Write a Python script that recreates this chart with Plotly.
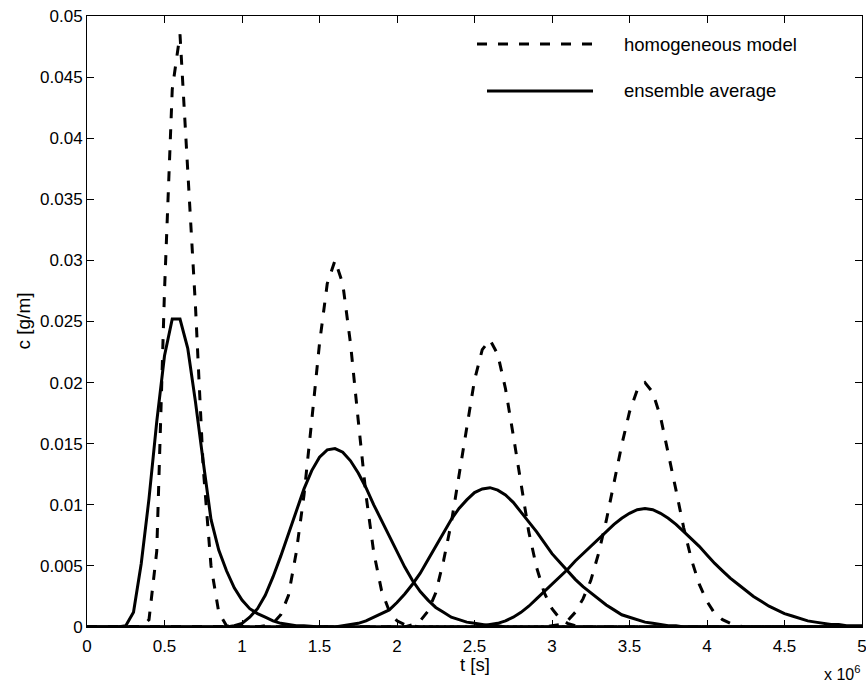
import plotly.graph_objects as go

# time in units of 10^6 s, concentration in g/m
# ---- homogeneous model (dashed), four pulses ----
t_h1 = [0.0, 0.35, 0.40, 0.45, 0.50, 0.55, 0.60, 0.65, 0.70, 0.75, 0.80, 0.85, 0.90, 0.95, 5.0]
c_h1 = [0, 0, 0.0006, 0.0062, 0.0275, 0.0440, 0.0485, 0.0375, 0.0262, 0.0130, 0.0050, 0.0012, 0.0001, 0, 0]

t_h2 = [0.0, 1.10, 1.15, 1.20, 1.25, 1.30, 1.35, 1.40, 1.45, 1.50, 1.55, 1.60, 1.65, 1.70, 1.75,
        1.80, 1.85, 1.90, 1.95, 2.00, 2.05, 2.10, 2.15, 5.0]
c_h2 = [0, 0, 0.0001, 0.0003, 0.0010, 0.0026, 0.0061, 0.0108, 0.0169, 0.0232, 0.0281, 0.0300, 0.0281,
        0.0232, 0.0169, 0.0108, 0.0061, 0.0030, 0.0013, 0.0005, 0.0002, 0.0001, 0, 0]

t_h3 = [0.0, 2.05, 2.10, 2.15, 2.20, 2.25, 2.30, 2.35, 2.40, 2.45, 2.50, 2.55, 2.60, 2.65, 2.70, 2.75,
        2.80, 2.85, 2.90, 2.95, 3.00, 3.05, 3.10, 3.15, 3.20, 5.0]
c_h3 = [0, 0, 0.0002, 0.0005, 0.0013, 0.0028, 0.0054, 0.0085, 0.0124, 0.0165, 0.0202, 0.0227, 0.0235,
        0.0223, 0.0195, 0.0157, 0.0116, 0.0078, 0.0049, 0.0028, 0.0015, 0.0007, 0.0003, 0.0001, 0, 0]

t_h4 = [0.0, 2.95, 3.00, 3.05, 3.10, 3.15, 3.20, 3.25, 3.30, 3.35, 3.40, 3.45, 3.50, 3.55, 3.60, 3.65,
        3.70, 3.75, 3.80, 3.85, 3.90, 3.95, 4.00, 4.05, 4.10, 4.15, 4.20, 4.25, 5.0]
c_h4 = [0, 0, 0.0001, 0.0002, 0.0005, 0.0012, 0.0023, 0.0038, 0.0060, 0.0087, 0.0118, 0.0149, 0.0176,
        0.0194, 0.0200, 0.0192, 0.0172, 0.0143, 0.0112, 0.0081, 0.0055, 0.0035, 0.0021, 0.0011, 0.0006,
        0.0003, 0.0001, 0, 0]

# ---- ensemble average (solid), four pulses ----
t_e1 = [0.0, 0.20, 0.25, 0.30, 0.35, 0.40, 0.45, 0.50, 0.55, 0.60, 0.65, 0.70, 0.75, 0.80, 0.85, 0.90,
        0.95, 1.00, 1.05, 1.10, 1.15, 1.20, 1.25, 1.30, 1.35, 1.40, 1.45, 1.50, 5.0]
c_e1 = [0, 0, 0.0001, 0.0012, 0.0052, 0.0105, 0.0168, 0.0222, 0.0252, 0.0252, 0.0228, 0.0184, 0.0135,
        0.0088, 0.0063, 0.0046, 0.0032, 0.0022, 0.0015, 0.0011, 0.0008, 0.0005, 0.0003, 0.0002, 0.0001,
        0.0001, 0.00005, 0, 0]

t_e2 = [0.0, 0.90, 0.95, 1.00, 1.05, 1.10, 1.15, 1.20, 1.25, 1.30, 1.35, 1.40, 1.45, 1.50, 1.55, 1.60,
        1.65, 1.70, 1.75, 1.80, 1.85, 1.90, 1.95, 2.00, 2.05, 2.10, 2.15, 2.20, 2.25, 2.30, 2.35, 2.40,
        2.45, 2.50, 2.55, 2.60, 2.65, 2.70, 5.0]
c_e2 = [0, 0, 0.0001, 0.0003, 0.0008, 0.0015, 0.0026, 0.0041, 0.0058, 0.0076, 0.0095, 0.0113, 0.0128,
        0.0139, 0.0145, 0.0146, 0.0143, 0.0136, 0.0126, 0.0114, 0.0100, 0.0087, 0.0074, 0.0062, 0.0049,
        0.0038, 0.0029, 0.0022, 0.0016, 0.0012, 0.0008, 0.0006, 0.0004, 0.0003, 0.0002, 0.0001, 0.0001,
        0, 0]

t_e3 = [0.0, 1.60, 1.65, 1.70, 1.75, 1.80, 1.85, 1.90, 1.95, 2.00, 2.05, 2.10, 2.15, 2.20, 2.25, 2.30,
        2.35, 2.40, 2.45, 2.50, 2.55, 2.60, 2.65, 2.70, 2.75, 2.80, 2.85, 2.90, 2.95, 3.00, 3.05, 3.10,
        3.15, 3.20, 3.25, 3.30, 3.35, 3.40, 3.45, 3.50, 3.55, 3.60, 3.65, 3.70, 3.75, 3.80, 3.85, 5.0]
c_e3 = [0, 0, 0.0001, 0.0002, 0.0003, 0.0005, 0.0008, 0.0011, 0.0014, 0.0020, 0.0027, 0.0035, 0.0044,
        0.0055, 0.0066, 0.0077, 0.0088, 0.0097, 0.0104, 0.0110, 0.0113, 0.0114, 0.0112, 0.0108, 0.0102,
        0.0094, 0.0086, 0.0078, 0.0069, 0.0060, 0.0053, 0.0046, 0.0039, 0.0033, 0.0028, 0.0023, 0.0018,
        0.0014, 0.0010, 0.0008, 0.0006, 0.0004, 0.0003, 0.0002, 0.0001, 0.0001, 0, 0]

t_e4 = [0.0, 2.50, 2.55, 2.60, 2.65, 2.70, 2.75, 2.80, 2.85, 2.90, 2.95, 3.00, 3.05, 3.10, 3.15, 3.20,
        3.25, 3.30, 3.35, 3.40, 3.45, 3.50, 3.55, 3.60, 3.65, 3.70, 3.75, 3.80, 3.85, 3.90, 3.95, 4.00,
        4.05, 4.10, 4.15, 4.20, 4.25, 4.30, 4.35, 4.40, 4.45, 4.50, 4.55, 4.60, 4.65, 4.70, 4.75, 4.80,
        4.85, 4.90, 4.95, 5.00]
c_e4 = [0, 0, 0.0001, 0.0002, 0.0003, 0.0005, 0.0008, 0.0012, 0.0017, 0.0023, 0.0029, 0.0035, 0.0041,
        0.0047, 0.0054, 0.0060, 0.0066, 0.0072, 0.0078, 0.0084, 0.0089, 0.0093, 0.0096, 0.0097, 0.0096,
        0.0093, 0.0089, 0.0084, 0.0078, 0.0072, 0.0066, 0.0059, 0.0052, 0.0046, 0.0040, 0.0035, 0.0030,
        0.0025, 0.0021, 0.0017, 0.0014, 0.0011, 0.0009, 0.0007, 0.0005, 0.0004, 0.0003, 0.0002, 0.0002,
        0.0001, 0.0001, 0.0001]

x_tickvals = [0, 0.5, 1, 1.5, 2, 2.5, 3, 3.5, 4, 4.5, 5]
x_ticktext = ["0", "0.5", "1", "1.5", "2", "2.5", "3", "3.5", "4", "4.5", "5"]
y_tickvals = [0, 0.005, 0.01, 0.015, 0.02, 0.025, 0.03, 0.035, 0.04, 0.045, 0.05]
y_ticktext = ["0", "0.005", "0.01", "0.015", "0.02", "0.025", "0.03", "0.035", "0.04", "0.045", "0.05"]

legend_labels = ["homogeneous model", "ensemble average"]

FONT = "Liberation Sans, Arial, Helvetica, sans-serif"
DASH = "10px,11px"

fig = go.Figure()
for t, c in [(t_h1, c_h1), (t_h2, c_h2), (t_h3, c_h3), (t_h4, c_h4)]:
    assert len(t) == len(c)
    fig.add_trace(go.Scatter(x=t, y=c, mode="lines", showlegend=False, hoverinfo="skip",
                             line=dict(color="black", width=3, dash=DASH)))
for t, c in [(t_e1, c_e1), (t_e2, c_e2), (t_e3, c_e3), (t_e4, c_e4)]:
    assert len(t) == len(c)
    fig.add_trace(go.Scatter(x=t, y=c, mode="lines", showlegend=False, hoverinfo="skip",
                             line=dict(color="black", width=3)))

axis_common = dict(showline=True, linecolor="black", linewidth=1, mirror="ticks",
                   ticks="inside", ticklen=7, tickwidth=1, tickcolor="black",
                   showgrid=False, zeroline=False, ticklabeloverflow="allow", automargin=False,
                   tickfont=dict(family=FONT, size=17, color="black"))
fig.update_xaxes(range=[0, 5], tickvals=x_tickvals, ticktext=x_ticktext, ticklabelstandoff=4,
                 **axis_common)
fig.update_yaxes(range=[0, 0.05], tickvals=y_tickvals, ticktext=y_ticktext, **axis_common)

W, H = 866, 684
L, R, T, B = 87, 4, 16, 57
pw, ph = W - L - R, H - T - B


def px(xp):
    return (xp - L) / pw


def py(yp):
    return (H - B - yp) / ph


# legend drawn manually (long line samples like the original)
fig.add_shape(type="line", xref="paper", yref="paper", x0=px(477), x1=px(593), y0=py(44), y1=py(44),
              line=dict(color="black", width=3, dash=DASH))
fig.add_shape(type="line", xref="paper", yref="paper", x0=px(487), x1=px(593), y0=py(91), y1=py(91),
              line=dict(color="black", width=3))
for lab, yy in zip(legend_labels, [44, 91]):
    fig.add_annotation(text=lab, xref="paper", yref="paper", x=px(622), y=py(yy), xanchor="left",
                       yanchor="middle", showarrow=False, font=dict(family=FONT, size=18.5, color="black"))

fig.add_annotation(text="t [s]", xref="paper", yref="paper", x=0.5, y=py(665), xanchor="center",
                   yanchor="middle", showarrow=False, borderpad=0,
                   font=dict(family=FONT, size=18.5, color="black"))
fig.add_annotation(text="c [g/m]", xref="paper", yref="paper", x=px(23), y=0.5, xanchor="center",
                   yanchor="middle", textangle=-90, showarrow=False,
                   font=dict(family=FONT, size=19, color="black"))
fig.add_annotation(text="x 10<sup>6</sup>", xref="paper", yref="paper", x=px(862), y=py(673),
                   xanchor="right", yanchor="middle", showarrow=False,
                   font=dict(family=FONT, size=16, color="black"))

fig.update_layout(width=W, height=H, margin=dict(l=L, r=R, t=T, b=B, pad=0, autoexpand=False),
                  paper_bgcolor="white", plot_bgcolor="white", showlegend=False)

fig.write_html("out.html")
